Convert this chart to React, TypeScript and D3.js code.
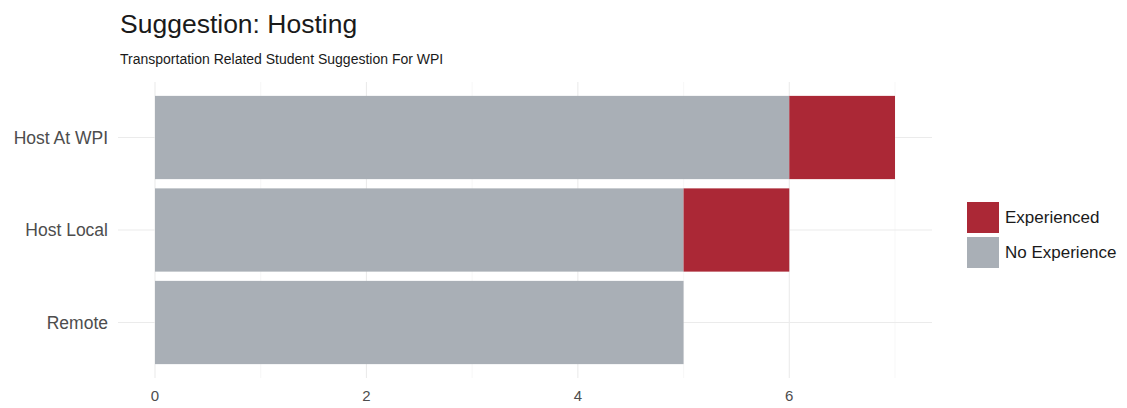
import React from "react";
import * as d3 from "d3";

const categories = ["Host At WPI", "Host Local", "Remote"];
const noExperience = [6, 5, 5];
const experienced = [1, 1, 0];
const seriesNames = ["Experienced", "No Experience"];
const xTicks = [0, 2, 4, 6];
const xMinor = [1, 3, 5, 7];

const W = 1127;
const H = 408;
const FONT = "'Liberation Sans', Arial, Helvetica, sans-serif";
const RED = "#ab2836";
const GREY = "#a9afb6";

export default function App() {
  const panel = { left: 118, right: 932, top: 82, bottom: 378 };
  const x = d3.scaleLinear().domain([-0.35, 7.35]).range([panel.left, panel.right]);
  const n = categories.length;
  const y = d3
    .scalePoint<string>()
    .domain(categories)
    .range([panel.top, panel.bottom])
    .padding(0.6);
  const unit = y.step();
  const bh = unit * 0.9;

  return (
    <svg width={W} height={H} style={{ display: "block", position: "absolute", left: 0, top: 0 }} fontFamily={FONT}>
      <rect width={W} height={H} fill="#ffffff" />
      <text x={120} y={33} fontSize={26.5} fill="#1a1a1a">Suggestion: Hosting</text>
      <text x={120} y={64} fontSize={14} fill="#1a1a1a">Transportation Related Student Suggestion For WPI</text>
      {xMinor.map((t) => (
        <line key={"mn" + t} x1={x(t)} x2={x(t)} y1={panel.top} y2={panel.bottom} stroke="#f2f2f2" strokeWidth={0.6} />
      ))}
      {xTicks.map((t) => (
        <line key={"mj" + t} x1={x(t)} x2={x(t)} y1={panel.top} y2={panel.bottom} stroke="#ebebeb" strokeWidth={1.1} />
      ))}
      {categories.map((c) => (
        <line key={"hg" + c} x1={panel.left} x2={panel.right} y1={y(c)!} y2={y(c)!} stroke="#ebebeb" strokeWidth={1.1} />
      ))}
      {categories.map((c, i) => (
        <g key={"b" + c}>
          <rect x={x(0)} y={y(c)! - bh / 2} width={x(noExperience[i]) - x(0)} height={bh} fill={GREY} />
          {experienced[i] > 0 && (
            <rect
              x={x(noExperience[i])}
              y={y(c)! - bh / 2}
              width={x(noExperience[i] + experienced[i]) - x(noExperience[i])}
              height={bh}
              fill={RED}
            />
          )}
        </g>
      ))}
      {categories.map((c) => (
        <text key={"yl" + c} x={108} y={y(c)!} dy="0.35em" textAnchor="end" fontSize={17.5} fill="#4d4d4d">{c}</text>
      ))}
      {xTicks.map((t) => (
        <text key={"xl" + t} x={x(t)} y={401} textAnchor="middle" fontSize={15} fill="#4d4d4d">{t}</text>
      ))}
      {seriesNames.map((s, i) => (
        <g key={"lg" + s}>
          <rect x={967} y={202 + i * 35} width={32} height={31} fill={i === 0 ? RED : GREY} />
          <text x={1005} y={217.5 + i * 35} dy="0.35em" fontSize={17} fill="#1a1a1a">{s}</text>
        </g>
      ))}
    </svg>
  );
}
